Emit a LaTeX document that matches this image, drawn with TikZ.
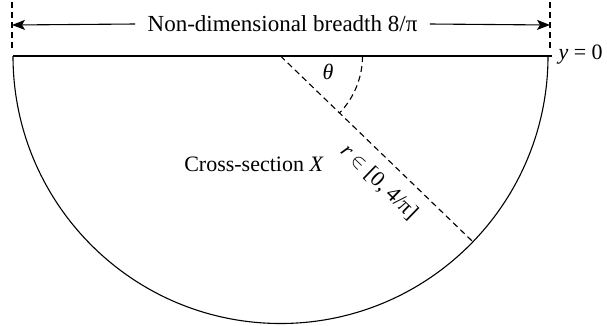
\documentclass[tikz,border=0pt]{standalone}
\usepackage{fontspec}
\setmainfont{Liberation Serif}
\usetikzlibrary{arrows.meta}
\begin{document}
\begin{tikzpicture}[x=1pt,y=1pt,line width=1.1pt,
  lbl/.style={font=\fontsize{22}{26}\selectfont,inner sep=0pt},
  dsh/.style={dash pattern=on 6pt off 4pt,line width=1.1pt},
  arr/.style={-{Stealth[length=13pt,width=10pt,inset=3pt]}}]
\useasboundingbox (0,0) rectangle (607,-325);
% geometry
\coordinate (O) at (280.5,-56);
\coordinate (L) at (13,-56);
\coordinate (R) at (548,-56);
\coordinate (Rt) at (552,-56);
\coordinate (P) at ([shift={(-44:267.5)}]O);
\coordinate (A0) at ([shift={(0:82)}]O);
% dashed guides
\coordinate (LT) at (12,-2);
\coordinate (LB) at (12,-50);
\coordinate (RT) at (550,-2);
\coordinate (RB) at (550,-50);
\draw[dsh] (LT) -- (LB);
\draw[dsh] (RT) -- (RB);
% cross-section
\draw (L) -- (Rt);
\draw (L) arc[start angle=180,end angle=360,radius=267.5];
\draw[dsh] (O) -- (P);
\draw[dsh] (A0) arc[start angle=0,end angle=-44,radius=82];
% labels
\node[lbl,font=\fontsize{23}{27}\selectfont,inner xsep=12pt] (T) at (282.5,-24) {Non-dimensional breadth 8/π};
\coordinate (LA) at (12,-25);
\coordinate (RA) at (550,-25);
\draw[arr] (T.west) -- (LA);
\draw[arr] (T.east) -- (RA);
\node[lbl,anchor=west] (Y) at (558,-55) {\textit{y} = 0};
\node[lbl] (TH) at (328,-72) {\textit{θ}};
\node[lbl] (X) at (254,-164) {Cross-section \textit{X}};
\node[lbl,rotate=-44] (RL) at (379,-182) {\textit{r} $\in$ [0, 4/π]};
\end{tikzpicture}
\end{document}
